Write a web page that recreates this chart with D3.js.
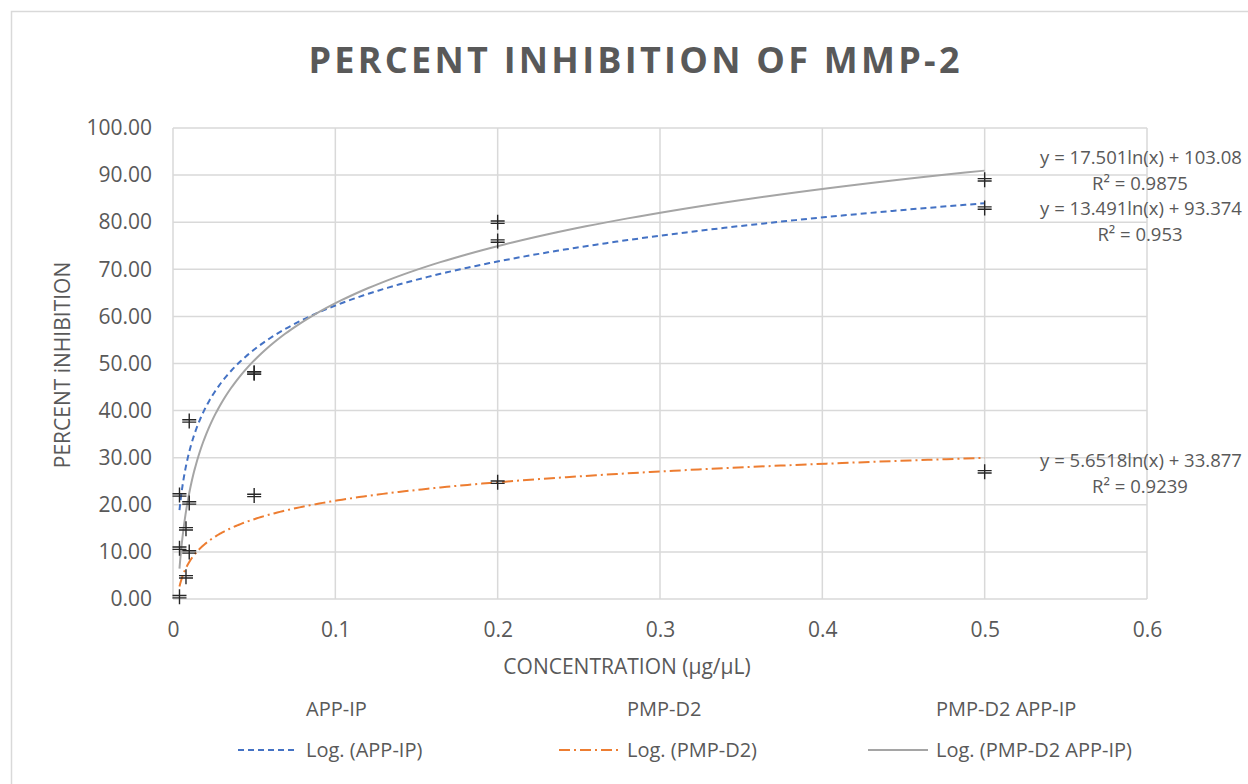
<!DOCTYPE html>
<html>
<head>
<meta charset="utf-8">
<script src="https://cdn.jsdelivr.net/npm/d3@7"></script>
<style>
  body { margin: 0; background: #fff; }
  svg text { font-family: "Open Sans", sans-serif; fill: #595959; }
</style>
</head>
<body>
<svg width="1248" height="784"></svg>
<script>
// data
const seriesNames = ["APP-IP", "PMP-D2", "PMP-D2 APP-IP"];
const appIpX = [0.004, 0.01, 0.05, 0.2, 0.5];
const appIpY = [22.1, 37.8, 48.0, 76.0, 83.0];
const pmpD2X = [0.004, 0.008, 0.01, 0.05, 0.2, 0.5];
const pmpD2Y = [0.5, 4.7, 10.0, 22.0, 24.8, 27.0];
const comboX = [0.004, 0.008, 0.01, 0.05, 0.2, 0.5];
const comboY = [10.8, 14.9, 20.4, 48.0, 80.0, 89.0];

// log trendline coefficients y = a ln(x) + b, and R²
const trendA = [13.491, 5.6518, 17.501];
const trendB = [93.374, 33.877, 103.08];
const trendR2 = ["0.953", "0.9239", "0.9875"];
const trendXmin = [0.004, 0.004, 0.004];
const trendXmax = [0.5, 0.5, 0.5];

const yTicks = [0, 10, 20, 30, 40, 50, 60, 70, 80, 90, 100];
const xTicks = [0, 0.1, 0.2, 0.3, 0.4, 0.5, 0.6];

const colors = ["#4472C4", "#ED7D31", "#A5A5A5"];
const dashes = ["6,4", "11,4,2,4", null];

const svg = d3.select("svg");

// chart border
svg.append("rect")
  .attr("x", 11.5).attr("y", 11.5).attr("width", 1260).attr("height", 800)
  .attr("fill", "none").attr("stroke", "#d9d9d9").attr("stroke-width", 1.5);

const x = d3.scaleLinear().domain([0, 0.6]).range([173, 1147]);
const y = d3.scaleLinear().domain([0, 100]).range([599, 128]);

// title
svg.append("text")
  .attr("x", 634).attr("y", 73)
  .attr("text-anchor", "middle")
  .attr("font-size", 36).attr("font-weight", "bold")
  .attr("textLength", 651).attr("lengthAdjust", "spacing")
  .text("PERCENT INHIBITION OF MMP-2");

// grid
const grid = svg.append("g").attr("stroke", "#d9d9d9").attr("stroke-width", 1.5);
grid.selectAll(".h").data(yTicks).join("line")
  .attr("x1", x(0)).attr("x2", x(0.6))
  .attr("y1", d => y(d)).attr("y2", d => y(d));
grid.selectAll(".v").data(xTicks).join("line")
  .attr("y1", y(0)).attr("y2", y(100))
  .attr("x1", d => x(d)).attr("x2", d => x(d));

// axes (labels only, lines are the grid)
const yAxis = svg.append("g").attr("transform", `translate(${x(0)},0)`)
  .call(d3.axisLeft(y).tickValues(yTicks).tickSize(0).tickPadding(21).tickFormat(d3.format(".2f")));
const xAxis = svg.append("g").attr("transform", `translate(0,${y(0)})`)
  .call(d3.axisBottom(x).tickValues(xTicks).tickSize(0).tickPadding(23).tickFormat(d => d === 0 ? "0" : d3.format(".1f")(d)));
[yAxis, xAxis].forEach(g => {
  g.select(".domain").remove();
  g.selectAll("text").attr("font-size", 21).attr("fill", "#595959")
    .attr("font-family", "'Open Sans', sans-serif");
});

svg.append("text")
  .attr("transform", "translate(70,365) rotate(-90)")
  .attr("text-anchor", "middle").attr("font-size", 21)
  .text("PERCENT iNHIBITION");
svg.append("text")
  .attr("x", 627).attr("y", 674)
  .attr("text-anchor", "middle").attr("font-size", 21)
  .text("CONCENTRATION (µg/µL)");

// trendlines
const trendLine = d3.line().x(d => x(d[0])).y(d => y(d[1]));
trendA.forEach((a, i) => {
  const lo = Math.log(trendXmin[i]), hi = Math.log(trendXmax[i]);
  const pts = d3.range(0, 201).map(k => {
    const xv = Math.exp(lo + (hi - lo) * k / 200);
    return [xv, a * Math.log(xv) + trendB[i]];
  });
  svg.append("path").datum(pts)
    .attr("d", trendLine)
    .attr("fill", "none")
    .attr("stroke", colors[i]).attr("stroke-width", 2)
    .attr("stroke-dasharray", dashes[i]);
});

// markers
const allPoints = [
  ...appIpX.map((v, i) => [v, appIpY[i]]),
  ...pmpD2X.map((v, i) => [v, pmpD2Y[i]]),
  ...comboX.map((v, i) => [v, comboY[i]])
];
const plus = "M-7,-1.2H7M-7,1.2H7M0,-7.5V7.5";
svg.append("g").selectAll("path").data(allPoints).join("path")
  .attr("transform", d => `translate(${x(d[0])},${y(d[1])})`)
  .attr("d", plus)
  .attr("fill", "none").attr("stroke", "#262626").attr("stroke-width", 1.4);

// trendline labels
const labelSpec = [
  { i: 2, y: 164 },
  { i: 0, y: 215 },
  { i: 1, y: 467 }
];
labelSpec.forEach(s => {
  const t = svg.append("text").attr("text-anchor", "middle").attr("font-size", 18.5);
  t.append("tspan").attr("x", 1141).attr("y", s.y)
    .text(`y = ${trendA[s.i]}ln(x) + ${trendB[s.i]}`);
  t.append("tspan").attr("x", 1140).attr("y", s.y + 26)
    .text(`R² = ${trendR2[s.i]}`);
});

// legend
const legX = [306, 627, 936];
const leg = svg.append("g").attr("font-size", 20);
seriesNames.forEach((n, i) => {
  leg.append("text").attr("x", legX[i]).attr("y", 716).text(n);
  leg.append("line")
    .attr("x1", legX[i] - 68).attr("x2", legX[i] - 8)
    .attr("y1", 750).attr("y2", 750)
    .attr("stroke", colors[i]).attr("stroke-width", 2)
    .attr("stroke-dasharray", dashes[i]);
  leg.append("text").attr("x", legX[i]).attr("y", 757).text(`Log. (${n})`);
});
</script>
</body>
</html>
